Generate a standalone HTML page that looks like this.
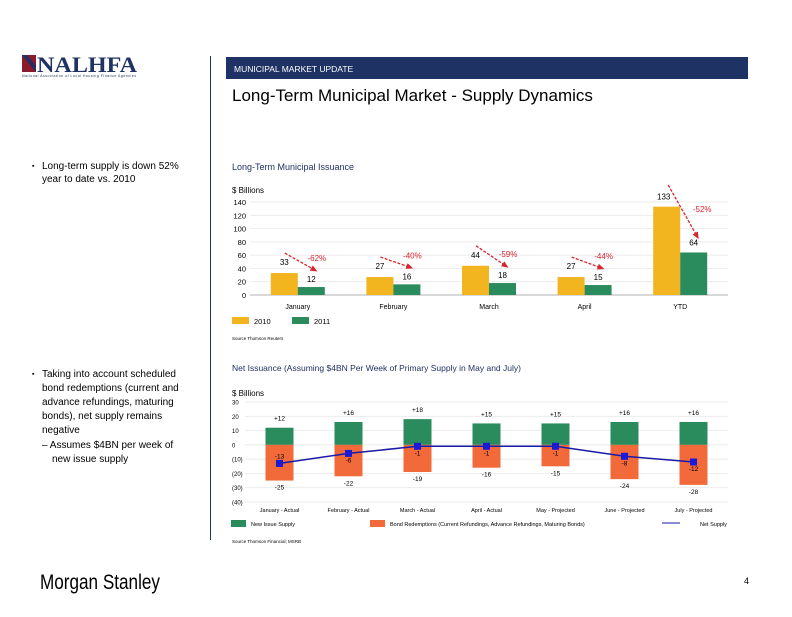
<!DOCTYPE html>
<html><head><meta charset="utf-8"><style>
body{margin:0;background:#fff;}
svg text{font-family:"Liberation Sans",sans-serif;}
</style></head><body>
<svg id="page" width="792" height="612" viewBox="0 0 792 612" xmlns="http://www.w3.org/2000/svg">
<g>
<rect x="22" y="55" width="14" height="17" fill="#8b1a2b"/>
<path d="M22 55 L36 72 L36 66 L27 55Z" fill="#1f3264"/>
<text x="37" y="72" font-weight="bold" font-size="22" fill="#1f3264" style="font-family:'Liberation Serif',serif" textLength="100" lengthAdjust="spacingAndGlyphs">NALHFA</text>
<text x="22" y="77" font-size="3.5" fill="#1f3264" textLength="114">National Association of Local Housing Finance Agencies</text>
</g>
<line x1="210.5" y1="56" x2="210.5" y2="540" stroke="#1f3264" stroke-width="1"/>
<rect x="226" y="57" width="522" height="22" fill="#1f3264"/>
<text x="234" y="72" font-size="8.5" fill="#fff">MUNICIPAL MARKET UPDATE</text>
<text x="232" y="101" font-size="17" fill="#000">Long-Term Municipal Market - Supply Dynamics</text>

<g font-size="10" fill="#000">
<text x="32" y="168" font-size="7">▪</text><text x="42" y="169">Long-term supply is down 52%</text>
<text x="42" y="182">year to date vs. 2010</text>
<text x="32" y="376" font-size="7">▪</text><text x="42" y="377">Taking into account scheduled</text>
<text x="42" y="391">bond redemptions (current and</text>
<text x="42" y="405">advance refundings, maturing</text>
<text x="42" y="419">bonds), net supply remains</text>
<text x="42" y="433">negative</text>
<text x="42" y="448">– Assumes $4BN per week of</text>
<text x="52" y="462">new issue supply</text>
</g>

<text x="232" y="170" font-size="9" fill="#1f3264">Long-Term Municipal Issuance</text>
<text x="232" y="193" font-size="8" fill="#000">$ Billions</text>
<g id="c1"></g>
<text x="232" y="340" font-size="4.5" fill="#000">Source    Thomson Reuters</text>

<text x="232" y="371" font-size="8.5" fill="#1f3264">Net Issuance (Assuming $4BN Per Week of Primary Supply in May and July)</text>
<text x="232" y="396" font-size="8" fill="#000">$ Billions</text>
<g id="c2"></g>
<text x="232" y="543" font-size="4.5" fill="#000">Source    Thomson Financial; MSRB</text>

<text x="40" y="589" font-size="21" fill="#000" textLength="120" lengthAdjust="spacingAndGlyphs">Morgan Stanley</text>
<text x="744" y="584" font-size="9" fill="#000">4</text>
</svg>
<script>
const c1Cats=["January","February","March","April","YTD"];
const c1V2010=[33,27,44,27,133];
const c1V2011=[12,16,18,15,64];
const c1Pct=["-62%","-40%","-59%","-44%","-52%"];
const c1Ticks=[0,20,40,60,80,100,120,140];

const c2Cats=["January - Actual","February - Actual","March - Actual","April - Actual","May - Projected","June - Projected","July - Projected"];
const c2New=[12,16,18,15,15,16,16];
const c2Red=[-25,-22,-19,-16,-15,-24,-28];
const c2Net=[-13,-6,-1,-1,-1,-8,-12];
const c2Ticks=[30,20,10,0,-10,-20,-30,-40];
const c2TickLabels=["30","20","10","0","(10)","(20)","(30)","(40)"];

const NS="http://www.w3.org/2000/svg";
function mk(p,t,a,txt){const e=document.createElementNS(NS,t);for(const k in a)e.setAttribute(k,a[k]);if(txt!==undefined)e.textContent=txt;p.appendChild(e);return e;}

// chart 1
const g1=document.getElementById('c1');
const X0=250,X1=728;
const y1=v=>295-v*(93/140);
const band1=(X1-X0)/c1Cats.length;
const cx1=i=>X0+band1*(i+0.5);
c1Ticks.forEach(t=>{
 const l=mk(g1,'line',{x1:X0,x2:X1,y1:y1(t),y2:y1(t),stroke:t===0?'#999':'#e4e4e4','stroke-width':0.7});
 
 
 const tx=mk(g1,'text',{x:246,y:y1(t)+3,'font-size':7.5,'text-anchor':'end'},String(t));
 
 
});
c1Cats.forEach((c,i)=>{
 const cx=cx1(i),bw=27;
 const a=mk(g1,'rect',{x:cx-bw,y:y1(c1V2010[i]),width:bw,height:y1(0)-y1(c1V2010[i]),fill:'#f2b41f'});
 
 
 const b=mk(g1,'rect',{x:cx,y:y1(c1V2011[i]),width:bw,height:y1(0)-y1(c1V2011[i]),fill:'#2a8c5c'});
 
 
 const la=mk(g1,'text',{x:cx-bw/2-(i===4?3:0),y:y1(c1V2010[i])-(i===4?7:8),'font-size':8,'text-anchor':'middle'},String(c1V2010[i]));
 
 
 const lb=mk(g1,'text',{x:cx+bw/2,y:y1(c1V2011[i])-(i===4?7:5),'font-size':8,'text-anchor':'middle'},String(c1V2011[i]));
 
 
 const xl=mk(g1,'text',{x:cx,y:309,'font-size':7,'text-anchor':'middle'},c);
 
 
 let sx,sy,ex,ey,px,py;
 if(i<4){sx=cx-13;sy=y1(c1V2010[i])-20;ex=cx+17;ey=y1(c1V2011[i])-17;px=ex+2;py=ey-9;}
 else{sx=cx-12;sy=185;ex=cx+17;ey=y1(c1V2011[i])-16;px=cx+22;py=212;}
 const ar=mk(g1,'line',{x1:sx,y1:sy,x2:ex,y2:ey,stroke:'#d9232e','stroke-width':1.3,'stroke-dasharray':'3,1.5'});
 
 
 const ang=Math.atan2(ey-sy,ex-sx);
 const hp=[[ex+3*Math.cos(ang),ey+3*Math.sin(ang)],[ex-4*Math.cos(ang)+3*Math.sin(ang),ey-4*Math.sin(ang)-3*Math.cos(ang)],[ex-4*Math.cos(ang)-3*Math.sin(ang),ey-4*Math.sin(ang)+3*Math.cos(ang)]];
 const ah=mk(g1,'polygon',{points:hp.map(p=>p.join(',')).join(' '),fill:'#d9232e'});
 
 
 const pt=mk(g1,'text',{x:px,y:py,'font-size':8,fill:'#d9232e','text-anchor':'middle'},c1Pct[i]);
 
 
});
[[232,'#f2b41f','2010'],[292,'#2a8c5c','2011']].forEach(([x,col,t])=>{
 const r=mk(g1,'rect',{x:x,y:317,width:17,height:7,fill:col});
 
 
 const tt=mk(g1,'text',{x:x+22,y:324,'font-size':7.5},t);
 
 
});

// chart 2
const g2=document.getElementById('c2');
const Y0=245,Y1=728;
const y2=v=>402+(30-v)*(100/70);
const band2=(Y1-Y0)/c2Cats.length;
const cx2=i=>Y0+band2*(i+0.5);
c2Ticks.forEach((t,k)=>{
 const l=mk(g2,'line',{x1:Y0,x2:Y1,y1:y2(t),y2:y2(t),stroke:'#e4e4e4','stroke-width':0.7});
 
 
 const tx=mk(g2,'text',{x:232,y:y2(t)+2.5,'font-size':6},c2TickLabels[k]);
 
 
});
const bw2=28;
c2Cats.forEach((c,i)=>{
 const cx=cx2(i);
 const a=mk(g2,'rect',{x:cx-bw2/2,y:y2(c2New[i]),width:bw2,height:y2(0)-y2(c2New[i]),fill:'#2a8c5c'});
 
 
 const b=mk(g2,'rect',{x:cx-bw2/2,y:y2(0),width:bw2,height:y2(c2Red[i])-y2(0),fill:'#f26a3a'});
 
 
 const la=mk(g2,'text',{x:cx,y:y2(c2New[i])-7,'font-size':6.5,'text-anchor':'middle'},'+'+c2New[i]);
 
 
 const lb=mk(g2,'text',{x:cx,y:y2(c2Red[i])+9,'font-size':6.5,'text-anchor':'middle'},String(c2Red[i]));
 
 
 const ln=mk(g2,'text',{x:cx,y:y2(c2Net[i])+(i===0?-5:9),'font-size':6.5,'text-anchor':'middle'},String(c2Net[i]));
 
 
 const xl=mk(g2,'text',{x:cx,y:512,'font-size':5.5,'text-anchor':'middle'},c);
 
 
});
const pl=mk(g2,'polyline',{points:c2Net.map((v,i)=>cx2(i)+','+y2(v)).join(' '),fill:'none',stroke:'#1a1aa8','stroke-width':1.5});


c2Net.forEach((v,i)=>{
 const m=mk(g2,'rect',{x:cx2(i)-3.5,y:y2(v)-3.5,width:7,height:7,fill:'#1a1ad8'});
 
 
});
[[231,'#2a8c5c','New Issue Supply'],[370,'#f26a3a','Bond Redemptions (Current Refundings, Advance Refundings, Maturing Bonds)']].forEach(([x,col,t])=>{
 const r=mk(g2,'rect',{x:x,y:520,width:15,height:7,fill:col});
 
 
 const tt=mk(g2,'text',{x:x+20,y:526,'font-size':5.5},t);
 
 
});
const ll=mk(g2,'line',{x1:662,x2:680,y1:523,y2:523,stroke:'#1a1aa8','stroke-width':1});


const lt=mk(g2,'text',{x:700,y:526,'font-size':5.5},'Net Supply');


</script>
</body></html>
